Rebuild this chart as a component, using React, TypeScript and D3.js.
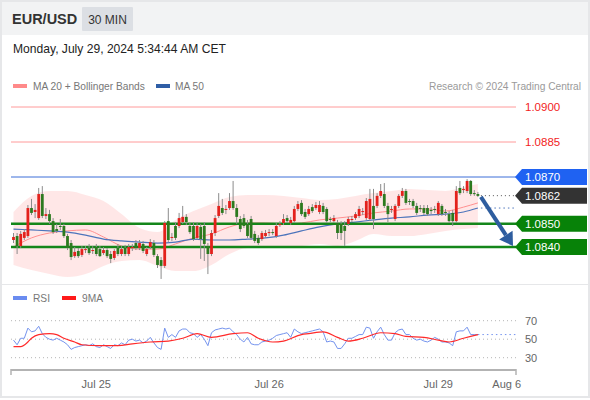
import React from 'react';
import * as d3 from 'd3';

// ---------- DATA ----------
const opens = [1.08430,1.08447,1.08404,1.08439,1.08447,1.08567,1.08550,1.08524,1.08627,1.08533,1.08541,1.08511,1.08477,1.08490,1.08490,1.08447,1.08417,1.08361,1.08383,1.08366,1.08387,1.08396,1.08383,1.08400,1.08391,1.08374,1.08387,1.08370,1.08353,1.08396,1.08370,1.08396,1.08370,1.08396,1.08417,1.08396,1.08413,1.08370,1.08400,1.08417,1.08361,1.08344,1.08319,1.08511,1.08439,1.08490,1.08490,1.08507,1.08529,1.08490,1.08490,1.08439,1.08486,1.08490,1.08404,1.08370,1.08460,1.08533,1.08567,1.08559,1.08567,1.08597,1.08567,1.08520,1.08524,1.08499,1.08520,1.08456,1.08439,1.08434,1.08447,1.08460,1.08464,1.08447,1.08494,1.08503,1.08524,1.08503,1.08511,1.08563,1.08589,1.08550,1.08541,1.08571,1.08567,1.08550,1.08576,1.08563,1.08520,1.08511,1.08503,1.08499,1.08490,1.08499,1.08516,1.08524,1.08533,1.08550,1.08524,1.08520,1.08576,1.08576,1.08619,1.08627,1.08576,1.08559,1.08520,1.08576,1.08619,1.08640,1.08597,1.08597,1.08576,1.08567,1.08567,1.08567,1.08559,1.08563,1.08541,1.08576,1.08550,1.08541,1.08546,1.08511,1.08653,1.08644,1.08640,1.08683,1.08631,1.08627];
const highs = [1.08460,1.08460,1.08469,1.08477,1.08580,1.08606,1.08584,1.08653,1.08661,1.08567,1.08559,1.08524,1.08499,1.08520,1.08499,1.08456,1.08430,1.08400,1.08396,1.08404,1.08404,1.08413,1.08404,1.08413,1.08404,1.08400,1.08396,1.08383,1.08391,1.08413,1.08404,1.08409,1.08413,1.08413,1.08430,1.08430,1.08426,1.08400,1.08434,1.08430,1.08370,1.08357,1.08511,1.08567,1.08460,1.08507,1.08546,1.08576,1.08541,1.08507,1.08507,1.08507,1.08499,1.08507,1.08417,1.08473,1.08537,1.08631,1.08606,1.08580,1.08631,1.08683,1.08584,1.08533,1.08541,1.08516,1.08533,1.08469,1.08451,1.08469,1.08473,1.08477,1.08477,1.08503,1.08511,1.08541,1.08537,1.08529,1.08576,1.08597,1.08601,1.08563,1.08576,1.08584,1.08593,1.08597,1.08589,1.08571,1.08529,1.08537,1.08516,1.08511,1.08511,1.08529,1.08533,1.08550,1.08576,1.08567,1.08610,1.08649,1.08649,1.08631,1.08670,1.08674,1.08589,1.08576,1.08584,1.08627,1.08653,1.08649,1.08606,1.08606,1.08589,1.08580,1.08580,1.08580,1.08571,1.08576,1.08597,1.08584,1.08563,1.08554,1.08559,1.08661,1.08683,1.08661,1.08691,1.08687,1.08644,1.08636];
const lows = [1.08417,1.08370,1.08396,1.08430,1.08439,1.08537,1.08524,1.08516,1.08524,1.08520,1.08499,1.08456,1.08460,1.08473,1.08439,1.08387,1.08344,1.08353,1.08353,1.08357,1.08374,1.08366,1.08370,1.08361,1.08357,1.08366,1.08353,1.08331,1.08344,1.08361,1.08361,1.08361,1.08361,1.08383,1.08387,1.08387,1.08374,1.08361,1.08391,1.08357,1.08310,1.08263,1.08310,1.08421,1.08426,1.08430,1.08481,1.08499,1.08494,1.08456,1.08426,1.08430,1.08349,1.08340,1.08284,1.08361,1.08447,1.08524,1.08537,1.08541,1.08559,1.08559,1.08499,1.08464,1.08481,1.08439,1.08430,1.08417,1.08409,1.08426,1.08439,1.08447,1.08451,1.08439,1.08486,1.08494,1.08503,1.08494,1.08503,1.08554,1.08533,1.08520,1.08533,1.08546,1.08559,1.08541,1.08541,1.08503,1.08507,1.08503,1.08434,1.08430,1.08404,1.08490,1.08507,1.08516,1.08524,1.08537,1.08516,1.08511,1.08477,1.08567,1.08610,1.08567,1.08507,1.08546,1.08511,1.08567,1.08610,1.08580,1.08580,1.08567,1.08537,1.08550,1.08537,1.08533,1.08541,1.08546,1.08533,1.08533,1.08533,1.08503,1.08490,1.08503,1.08623,1.08631,1.08631,1.08619,1.08619,1.08614];
const closes = [1.08443,1.08404,1.08456,1.08464,1.08567,1.08546,1.08559,1.08627,1.08533,1.08541,1.08511,1.08464,1.08469,1.08486,1.08447,1.08396,1.08357,1.08379,1.08361,1.08391,1.08391,1.08374,1.08387,1.08370,1.08361,1.08387,1.08361,1.08349,1.08383,1.08370,1.08391,1.08370,1.08400,1.08400,1.08396,1.08417,1.08383,1.08391,1.08421,1.08366,1.08323,1.08319,1.08503,1.08430,1.08443,1.08439,1.08524,1.08529,1.08507,1.08464,1.08434,1.08490,1.08434,1.08413,1.08370,1.08460,1.08524,1.08576,1.08546,1.08563,1.08597,1.08567,1.08529,1.08477,1.08490,1.08447,1.08439,1.08426,1.08417,1.08460,1.08460,1.08464,1.08460,1.08490,1.08499,1.08520,1.08511,1.08516,1.08563,1.08584,1.08541,1.08529,1.08563,1.08554,1.08580,1.08580,1.08550,1.08511,1.08516,1.08524,1.08460,1.08460,1.08469,1.08520,1.08520,1.08541,1.08563,1.08554,1.08597,1.08606,1.08520,1.08619,1.08640,1.08576,1.08541,1.08563,1.08576,1.08619,1.08640,1.08589,1.08593,1.08576,1.08546,1.08563,1.08546,1.08541,1.08554,1.08559,1.08589,1.08541,1.08546,1.08511,1.08511,1.08640,1.08631,1.08649,1.08683,1.08627,1.08627,1.08619];

const bandIdx = [0,5,10,15,20,25,30,35,40,45,50,55,60,65,70,75,80,85,90,95,100,105,110,115,120,125,129];
const bbUpper = [1.08550,1.08619,1.08640,1.08640,1.08623,1.08597,1.08541,1.08481,1.08464,1.08516,1.08554,1.08584,1.08614,1.08623,1.08623,1.08619,1.08610,1.08601,1.08606,1.08619,1.08631,1.08640,1.08649,1.08644,1.08640,1.08657,1.08670];
const bbLower = [1.08323,1.08301,1.08284,1.08271,1.08284,1.08319,1.08340,1.08344,1.08319,1.08297,1.08297,1.08323,1.08370,1.08396,1.08396,1.08396,1.08404,1.08413,1.08404,1.08426,1.08456,1.08447,1.08447,1.08456,1.08469,1.08477,1.08481];
const ma20 = [1.08400,1.08439,1.08460,1.08469,1.08473,1.08443,1.08404,1.08391,1.08391,1.08413,1.08439,1.08456,1.08486,1.08503,1.08503,1.08499,1.08503,1.08516,1.08524,1.08533,1.08546,1.08554,1.08563,1.08563,1.08554,1.08571,1.08589];
const ma50 = [1.08477,1.08473,1.08469,1.08464,1.08451,1.08434,1.08426,1.08421,1.08417,1.08421,1.08434,1.08430,1.08430,1.08434,1.08439,1.08451,1.08469,1.08486,1.08499,1.08507,1.08516,1.08524,1.08529,1.08537,1.08541,1.08550,1.08567];

const rsi = [49,44,51,51,62,58,59,64,56,52,50,49,51,49,47,44,39,41,42,43,44,43,45,42,41,44,42,40,44,43,46,44,49,50,48,49,46,48,52,46,41,39,62,52,55,52,59,61,61,57,56,52,55,50,43,57,60,61,62,61,62,58,55,50,47,52,45,44,44,47,48,49,51,54,55,56,57,52,61,58,56,57,58,59,60,61,58,47,48,47,40,40,45,51,51,53,55,55,63,62,51,58,63,55,49,49,57,60,61,55,55,51,49,50,48,47,49,52,50,47,47,46,43,58,59,59,63,55,55,55];
const rsiMaIdx = [0,2,4,5,7,10,12,14,17,19,24,29,33,38,43,47,51,55,61,65,68,72,75,80,82,86,90,93,97,102,106,109,114,118,121,125,129];
const rsiMa = [42,42,47,51,55,56,55,51,47,44,43,43,45,47,48,51,56,52,56,57,51,47,48,55,56,58,52,48,51,57,56,53,52,49,47,51,55];

const dateLabels = ['Jul 25', 'Jul 26', 'Jul 29', 'Aug 6'];
const dateLabelIdx = [23, 71, 118, 137];

const levelValues = [1.0900, 1.0885, 1.0870, 1.0862, 1.0850, 1.0840];
const levelKinds = ['res', 'res', 'blue', 'last', 'sup', 'sup'];
const rsiLevels = [70, 50, 30];

// ---------- STYLE ----------
const FONT = '"Liberation Sans", Arial, Helvetica, sans-serif';
const UP = '#e3211c';
const DOWN = '#2c7a1f';
const WICK = '#8c8c8c';
const levelStyle: Record<string, { line: string; width: number; badge?: string; text: string; dash?: string }> = {
  res: { line: '#ff9a9a', width: 1, text: '#f21d1d' },
  blue: { line: '#3c6fd8', width: 1, badge: '#1f62f2', text: '#ffffff' },
  last: { line: '#555555', width: 1, badge: '#333333', text: '#ffffff', dash: '1,3' },
  sup: { line: '#14861a', width: 2.5, badge: '#078208', text: '#ffffff' },
};

export default function App() {
  const W = 590, H = 400;
  const plotL = 11, plotR = 516;
  const n = closes.length;
  const x = d3.scaleLinear().domain([0, n - 1]).range([13.5, 13.5 + 3.6 * (n - 1)]);
  const y = d3.scaleLinear().domain([1.0840, 1.0900]).range([247, 107]);
  const ry = d3.scaleLinear().domain([30, 70]).range([357.7, 320.7]);
  const bodyW = 2.8;

  const band = bandIdx.map((i, k) => ({ i, u: bbUpper[k], l: bbLower[k], m20: ma20[k], m50: ma50[k] }));
  const areaGen = d3.area<any>().x(d => x(d.i)).y0(d => y(d.l)).y1(d => y(d.u)).curve(d3.curveMonotoneX);
  const ma20Gen = d3.line<any>().x(d => x(d.i)).y(d => y(d.m20)).curve(d3.curveMonotoneX);
  const ma50Gen = d3.line<any>().x(d => x(d.i)).y(d => y(d.m50)).curve(d3.curveMonotoneX);
  const rsiGen = d3.line<number>().x((_, i) => x(i)).y(v => ry(v));
  const rsiMaData = rsiMaIdx.map((i, k) => ({ i, v: rsiMa[k] }));
  const rsiMaGen = d3.line<any>().x(d => x(d.i)).y(d => ry(d.v)).curve(d3.curveMonotoneX);

  const lastX = x(n - 1);
  const lastClose = closes[n - 1];

  const ax0 = lastX + 3, ay0 = y(lastClose) + 1;
  const ax1 = plotR - 3, ay1 = y(1.0840) - 1;
  const ang = Math.atan2(ay1 - ay0, ax1 - ax0);
  const headLen = 13, headW = 8;
  const bx = ax1 - headLen * Math.cos(ang), by = ay1 - headLen * Math.sin(ang);
  const px = -Math.sin(ang), py = Math.cos(ang);

  const badge = (yy: number) => {
    const l = plotR - 1, h = 8;
    return `M${l},${yy} L${l + 7},${yy - h} L${587},${yy - h} L${587},${yy + h} L${l + 7},${yy + h} Z`;
  };

  return (
    <svg width={W} height={H} style={{ position: 'absolute', left: 0, top: 0, fontFamily: FONT }}>
      <rect x={0} y={0} width={W} height={H} fill="#ffffff" />
      <rect x={0} y={0} width={W} height={35} fill="#f2f3f4" />
      <rect x={1} y={1} width={W - 2} height={396} fill="none" stroke="#e6e7e9" strokeWidth={2} />
      <line x1={0} x2={W} y1={284.5} y2={284.5} stroke="#e6e7e9" strokeWidth={1} />

      {/* header */}
      <text x={12} y={24} fontSize={14.5} fontWeight="bold" fill="#333">EUR/USD</text>
      <rect x={82} y={7} width={51} height={24} fill="#dcdfe4" rx={1} />
      <text x={107.5} y={24} fontSize={12} fill="#333" textAnchor="middle">30 MIN</text>
      <text x={13} y={52.5} fontSize={12.1} fill="#222">Monday, July 29, 2024 5:34:44 AM CET</text>

      {/* legend */}
      <rect x={13} y={84} width={14} height={4} fill="#ff8a8a" />
      <text x={33} y={89.5} fontSize={10.2} fill="#777">MA 20 + Bollinger Bands</text>
      <rect x={156} y={84} width={14} height={4} fill="#2f5ea6" />
      <text x={175} y={89.5} fontSize={10.2} fill="#777">MA 50</text>
      <text x={581} y={89.5} fontSize={10.2} fill="#9a9a9a" textAnchor="end">Research © 2024 Trading Central</text>

      {/* bollinger band */}
      <path d={areaGen(band) || ''} fill="#ffe3e3" opacity={0.85} />
      <path d={ma20Gen(band) || ''} fill="none" stroke="#ff9090" strokeWidth={1} />
      <path d={ma50Gen(band) || ''} fill="none" stroke="#4d74bb" strokeWidth={1.2} />
      <line x1={lastX + 3} x2={plotR} y1={y(ma50[ma50.length - 1])} y2={y(ma50[ma50.length - 1])} stroke="#4d74bb" strokeDasharray="1.5,3" />

      {/* levels */}
      {levelValues.map((v, k) => {
        const st = levelStyle[levelKinds[k]];
        const yy = y(v);
        const x1 = levelKinds[k] === 'last' ? lastX + 3 : plotL;
        return (
          <g key={'lv' + k}>
            <line x1={x1} x2={plotR} y1={yy} y2={yy} stroke={st.line} strokeWidth={st.width} strokeDasharray={st.dash} />
            {st.badge && <path d={badge(yy)} fill={st.badge} />}
            <text x={525} y={yy} dy="0.36em" fontSize={11.5} fill={st.text}>{v.toFixed(4)}</text>
          </g>
        );
      })}

      {/* candles */}
      {closes.map((c, i) => {
        const o = opens[i];
        const up = c >= o;
        const cx = x(i);
        const top = y(Math.max(o, c)), bot = y(Math.min(o, c));
        return (
          <g key={'c' + i}>
            <line x1={cx} x2={cx} y1={y(highs[i])} y2={y(lows[i])} stroke={WICK} strokeWidth={1} />
            <rect x={cx - bodyW / 2} y={top} width={bodyW} height={Math.max(1, bot - top)} fill={up ? UP : DOWN} />
          </g>
        );
      })}

      {/* arrow */}
      <line x1={ax0} y1={ay0} x2={bx} y2={by} stroke="#2e5d9f" strokeWidth={4} />
      <path d={`M${ax1},${ay1} L${bx + px * headW},${by + py * headW} L${bx - px * headW},${by - py * headW} Z`} fill="#2e5d9f" />

      {/* RSI panel */}
      <rect x={13} y={296} width={14} height={4} fill="#6a8cf0" />
      <text x={33} y={301.5} fontSize={10.2} fill="#777">RSI</text>
      <rect x={62} y={296} width={14} height={4} fill="#ff1a1a" />
      <text x={82} y={301.5} fontSize={10.2} fill="#777">9MA</text>
      {rsiLevels.map(v => (
        <g key={'rl' + v}>
          <line x1={plotL} x2={plotR} y1={ry(v)} y2={ry(v)} stroke="#b5b5b5" strokeDasharray="1,3" />
          <text x={525} y={ry(v)} dy="0.36em" fontSize={11} fill="#666">{v}</text>
        </g>
      ))}
      <path d={rsiGen(rsi) || ''} fill="none" stroke="#7493ee" strokeWidth={1} />
      <line x1={lastX} x2={plotR} y1={ry(rsi[n - 1])} y2={ry(rsi[n - 1])} stroke="#7493ee" strokeDasharray="1.5,3" />
      <path d={rsiMaGen(rsiMaData) || ''} fill="none" stroke="#ff2a2a" strokeWidth={1.2} />

      {/* x axis */}
      <line x1={plotL} x2={plotR} y1={370} y2={370} stroke="#b3b3b3" strokeWidth={2} />
      <line x1={plotL} x2={plotL} y1={369} y2={375} stroke="#b3b3b3" strokeWidth={1.5} />
      <line x1={plotR} x2={plotR} y1={369} y2={375} stroke="#b3b3b3" strokeWidth={1.5} />
      {dateLabels.map((t, k) => (
        <text key={t} x={x(dateLabelIdx[k])} y={388} fontSize={11} fill="#666" textAnchor="middle">{t}</text>
      ))}
    </svg>
  );
}
